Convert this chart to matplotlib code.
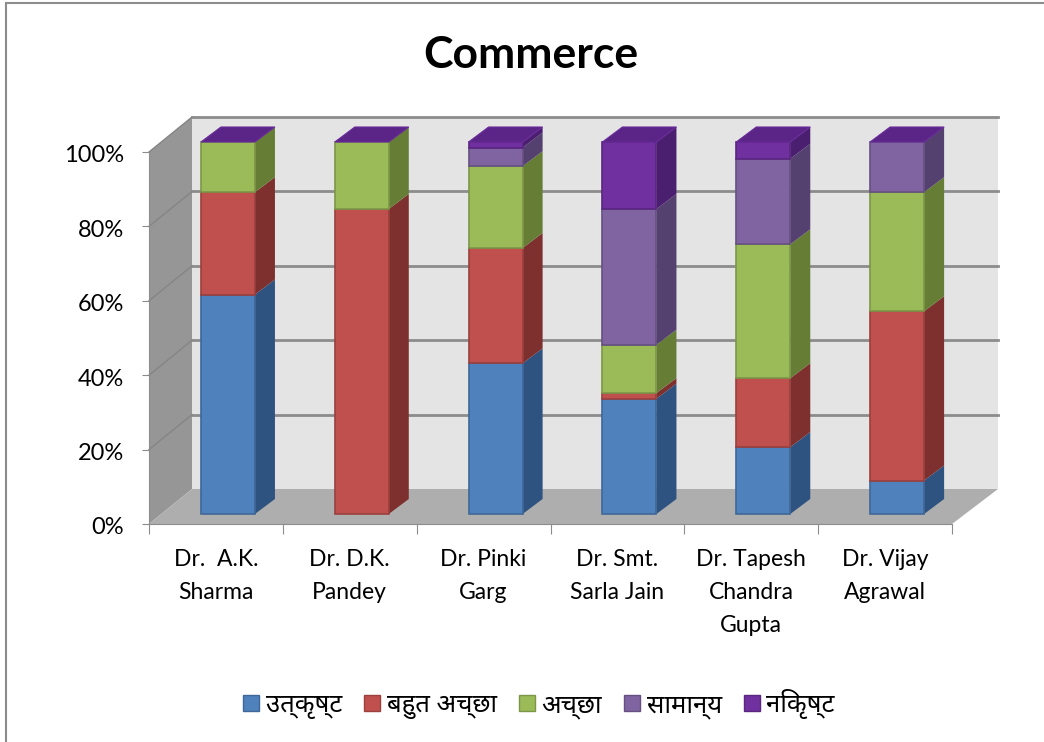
import matplotlib
matplotlib.use('Agg')
import matplotlib.pyplot as plt
from matplotlib.patches import Patch, Polygon, Rectangle
from matplotlib.transforms import ScaledTranslation

categories = ['Dr.  A.K.\nSharma', 'Dr. D.K.\nPandey', 'Dr. Pinki\nGarg', 'Dr. Smt.\nSarla Jain',
              'Dr. Tapesh\nChandra\nGupta', 'Dr. Vijay\nAgrawal']
series_names = ['उत्कृष्ट', 'बहुत अच्छा', 'अच्छा', 'सामान्य', 'निकृष्ट']
utkrisht = [59, 0, 40.5, 31, 18, 9]
bahut_accha = [27.5, 82, 31, 1.5, 18.5, 45.5]
accha = [13.5, 18, 22, 13, 36, 32]
samanya = [0, 0, 5, 36.5, 23, 13.5]
nikrisht = [0, 0, 1.5, 18, 4.5, 0]
series = [utkrisht, bahut_accha, accha, samanya, nikrisht]
yticks = [0, 20, 40, 60, 80, 100]

front = ['#4F81BD', '#C0504D', '#9BBB59', '#8064A2', '#7030A0']
edge = ['#3F6797', '#9A403E', '#7C9647', '#665082', '#5A2680']
side = ['#2F5380', '#7E302E', '#667D36', '#54416F', '#4A1F70']
cap = '#5A2587'

plt.rcParams['font.family'] = ['Lato', 'Noto Sans', 'DejaVu Sans']

W, H = 1044, 742
fig = plt.figure(figsize=(W / 100, H / 100), dpi=100)
fig.add_artist(Rectangle((5.5 / W, -0.01), 1.05, 1.0065, transform=fig.transFigure, fill=False, ec='#8C8C8C', lw=1.5))
ax = fig.add_axes([149 / W, 1 - 524 / H, (952 - 149) / W, (524 - 152) / H])
ax.set_xlim(0, 6)
ax.set_ylim(0, 100)
ax.patch.set_visible(False)

# box depth, in data units
dx = 43 / 133.8
dy = 35 / 3.72
wall_r = 6 + 46 / 133.8
bar_w = 54 / 133.8
bar_off = 0.388
bar_dx = 20 / 133.8
bar_dy = 15 / 3.72
bar_y0 = 10 / 3.72

ax.add_patch(Polygon([(0, 0), (dx, dy), (dx, 100 + dy), (0, 100)], fc='#969696', ec='none', clip_on=False, zorder=1))
ax.add_patch(Polygon([(dx, dy), (wall_r, dy), (wall_r, 100 + dy), (dx, 100 + dy)], fc='#E4E4E4', ec='none', clip_on=False, zorder=1))
ax.add_patch(Polygon([(0, 0), (dx, dy), (wall_r, dy), (6, 0)], fc='#AEAEAE', ec='none', clip_on=False, zorder=1))
for t in yticks:
    if t > 0:
        ax.plot([dx, wall_r], [t + dy, t + dy], color='#8C8C8C', lw=2, clip_on=False, zorder=2)
        ax.plot([0, dx], [t, t + dy], color='#858585', lw=1, clip_on=False, zorder=2)

for i in range(len(categories)):
    x0 = i + bar_off
    x1 = x0 + bar_w
    base = bar_y0
    for j, vals in enumerate(series):
        v = vals[i]
        if v == 0:
            continue
        top = base + v
        ax.add_patch(Polygon([(x1, base), (x1 + bar_dx, base + bar_dy), (x1 + bar_dx, top + bar_dy), (x1, top)],
                             fc=side[j], ec='none', clip_on=False, zorder=3))
        ax.add_patch(Polygon([(x0, base), (x1, base), (x1, top), (x0, top)],
                             fc=front[j], ec=edge[j], lw=1.2, clip_on=False, zorder=4))
        base = top
    ax.add_patch(Polygon([(x0, base), (x1, base), (x1 + bar_dx, base + bar_dy), (x0 + bar_dx, base + bar_dy)],
                         fc=cap, ec='#6A2C9A', lw=0.8, clip_on=False, zorder=5))

for s in ['top', 'right']:
    ax.spines[s].set_visible(False)
ax.spines['left'].set_color('#8C8C8C')
ax.spines['bottom'].set_color('#8C8C8C')
ax.spines['bottom'].set_zorder(6)

ax.set_yticks(yticks)
ax.set_yticklabels([f'{t}%' for t in yticks], fontsize=17)
ax.tick_params(axis='y', color='#8C8C8C', length=5, pad=13)
for lab in ax.get_yticklabels():
    lab.set_transform(lab.get_transform() + ScaledTranslation(0, -2 / 100, fig.dpi_scale_trans))
ax.set_xticks(range(7))
ax.set_xticklabels([])
ax.tick_params(axis='x', which='major', color='#8C8C8C', length=7)
ax.set_xticks([i + 0.5 for i in range(6)], minor=True)
ax.set_xticklabels(categories, minor=True, fontsize=16.5, linespacing=1.7)
ax.tick_params(axis='x', which='minor', length=0, pad=18)

fig.text(531 / W, 1 - 55 / H, 'Commerce', fontsize=32, fontweight='bold', ha='center', va='center')

handles = [Patch(fc=front[j], ec=edge[j]) for j in range(5)]
fig.legend(handles, series_names, ncol=5, loc='center', bbox_to_anchor=(539 / W, 1 - 704 / H), frameon=False,
           fontsize=18.5, handlelength=0.62, handleheight=0.62, handletextpad=0.25, columnspacing=0.87)

fig.savefig('out.png', dpi=100)
